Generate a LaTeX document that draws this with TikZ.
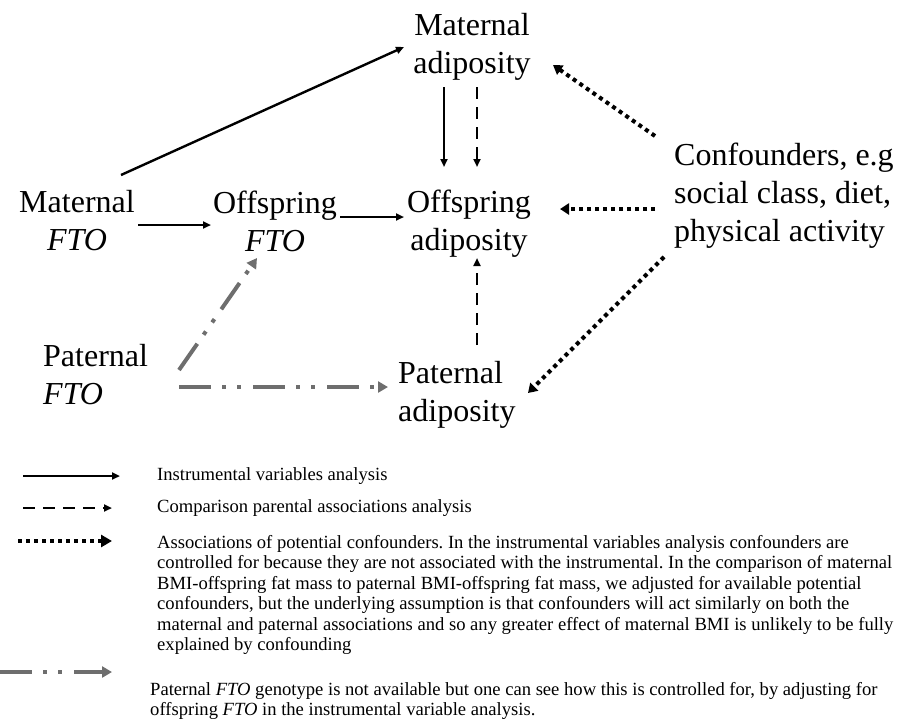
\documentclass[tikz,border=0pt]{standalone}
\usepackage{fontspec}
\setmainfont{Liberation Serif}
\usetikzlibrary{arrows.meta}
\definecolor{arrgray}{RGB}{110,110,110}
\frenchspacing
\begin{document}
\begin{tikzpicture}[x=1pt,y=-1pt,
  lbl/.style={font=\fontsize{32}{38}\selectfont, inner sep=0pt, align=center},
  lblL/.style={font=\fontsize{32}{38}\selectfont, inner sep=0pt, align=left, anchor=west},
  leg/.style={font=\fontsize{18.6}{20.5}\selectfont, inner sep=0pt, align=left, anchor=north west},
  legone/.style={font=\fontsize{18.6}{20.5}\selectfont, inner sep=0pt, anchor=west},
  solidarr/.style={line width=2.4pt, -{Triangle[length=8pt,width=7pt]}},
  dasharr/.style={line width=2.4pt, dash pattern=on 12pt off 8pt, -{Triangle[length=8pt,width=7pt]}},
  dotarr/.style={line width=4pt, dash pattern=on 4pt off 4pt, -{Triangle[length=9pt,width=11pt]}},
  grayarr/.style={line width=4pt, draw=arrgray, dash pattern=on 32pt off 11pt on 4pt off 11pt on 4pt off 12pt, -{Triangle[length=10pt,width=11pt,fill=arrgray]}},
]
\useasboundingbox (0,0) rectangle (905,721);

% main nodes
\node[lbl] (matadip) at (472,47) {Maternal\\adiposity};
\node[lbl] (matfto) at (77,221) {Maternal\\\textit{FTO}};
\node[lbl] (offfto) at (275,221) {Offspring\\\textit{FTO}};
\node[lbl] (offadip) at (469,224) {Offspring\\adiposity};
\node[lblL] (conf) at (674,196) {Confounders, e.g\\social class, diet,\\physical activity};
\node[lblL] (patfto) at (43,375) {Paternal\\\textit{FTO}};
\node[lblL] (patadip) at (398,395) {Paternal\\adiposity};

% connectors
\draw[solidarr] ([shift={(44,-46)}]matfto.center) -- ([shift={(-68,0)}]matadip.center);
\draw[solidarr] ([shift={(61,4)}]matfto.center) -- ([shift={(-64,4)}]offfto.center);
\draw[solidarr] ([shift={(65,-4)}]offfto.center) -- ([shift={(-65,-7)}]offadip.center);
\draw[solidarr] ([shift={(-28,40)}]matadip.center) -- ([shift={(-25,-57)}]offadip.center);
\draw[dasharr] ([shift={(5,40)}]matadip.center) -- ([shift={(8,-57)}]offadip.center);
\draw[dasharr] ([shift={(79,-50)}]patadip.west) -- ([shift={(8,34)}]offadip.center);
\draw[dotarr] ([shift={(-19,-60)}]conf.west) -- ([shift={(81,18)}]matadip.center);
\draw[dotarr] ([shift={(-19,13)}]conf.west) -- ([shift={(91,-15)}]offadip.center);
\draw[dotarr] ([shift={(-10,61)}]conf.west) -- ([shift={(130,-2)}]patadip.west);
\draw[grayarr] ([shift={(136,-5)}]patfto.west) -- ([shift={(-18,37)}]offfto.center);
\draw[grayarr] ([shift={(136,12)}]patfto.west) -- ([shift={(-10,-8)}]patadip.west);

% legend
\coordinate (l1a) at (23,476); \coordinate (l1b) at (120,476);
\coordinate (l2a) at (23,508); \coordinate (l2b) at (112,508);
\coordinate (l3a) at (18,541); \coordinate (l3b) at (112,541);
\coordinate (l4a) at (0,672); \coordinate (l4b) at (112,672);
\draw[solidarr, line width=2pt] (l1a) -- (l1b);
\draw[dasharr, line width=2.2pt] (l2a) -- (l2b);
\draw[dotarr, -{Triangle[length=11pt,width=12pt]}] (l3a) -- (l3b);
\draw[grayarr] (l4a) -- (l4b);

\node[legone] (t1) at (157,476) {Instrumental variables analysis};
\node[legone] (t2) at (157,508) {Comparison parental associations analysis};
\node[leg] (t3) at (157,535) {Associations of potential confounders. In the instrumental variables analysis confounders are\\
controlled for because they are not associated with the instrumental. In the comparison of maternal\\
BMI-offspring fat mass to paternal BMI-offspring fat mass, we adjusted for available potential\\
confounders, but the underlying assumption is that confounders will act similarly on both the\\
maternal and paternal associations and so any greater effect of maternal BMI is unlikely to be fully\\
explained by confounding};
\node[leg] (t4) at (150,682) {Paternal \textit{FTO} genotype is not available but one can see how this is controlled for, by adjusting for\\
offspring \textit{FTO} in the instrumental variable analysis.};
\end{tikzpicture}
\end{document}
